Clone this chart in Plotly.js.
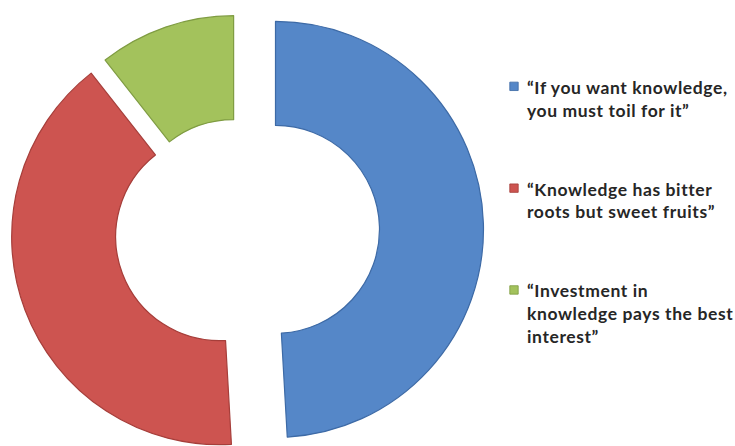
<!DOCTYPE html>
<html>
<head>
<meta charset="utf-8">
<script src="https://cdn.plot.ly/plotly-3.0.1.min.js"></script>
<style>
  html, body { margin: 0; padding: 0; overflow: hidden; background: #ffffff; width: 735px; height: 446px; position: relative; }
  #chart { position: absolute; left: -30px; top: -17px; width: 800px; height: 495px; }
  #chart .legendtext { font-size: 17.5px !important; letter-spacing: 0.6px; }
  #chart path.legendpie { transform: translate(27px, 0px) scale(0.7); }
</style>
</head>
<body>
<div id="chart"></div>
<script>
// Data
const categories = [
  "\u201cIf you want knowledge,<br>you must toil for it\u201d",
  "\u201cKnowledge has bitter<br>roots but sweet fruits\u201d",
  "\u201cInvestment in<br>knowledge pays the best<br>interest\u201d"
];
const values = [49.1, 40.3, 10.6];
const sliceColors = ["#5587c8", "#cd5450", "#a3c25c"];
const edgeColors = ["#3d6aa6", "#a63e3a", "#7f9c42"];
const slicePull = [0.19, 0.084, 0.035];

// legend spacing: pad entries with blank lines so entries are evenly spread
const maxLines = Math.max(...categories.map(c => c.split("<br>").length));
const legendLabels = categories.map(c => {
  const n = c.split("<br>").length;
  let s = c;
  for (let i = n; i < maxLines + 1; i++) s += "<br>\u00a0";
  return s;
});

const trace = {
  type: "pie",
  labels: legendLabels,
  values: values,
  hole: 0.5,
  sort: false,
  direction: "clockwise",
  rotation: 0,
  pull: slicePull,
  textinfo: "none",
  hoverinfo: "label+percent",
  marker: { colors: sliceColors, line: { color: edgeColors, width: 1.2 } },
  domain: { x: [0.023125, 0.641875], y: [0, 1] }
};

const layout = {
  width: 800,
  height: 495,
  margin: { l: 0, r: 0, t: 0, b: 0 },
  paper_bgcolor: "#ffffff",
  showlegend: true,
  legend: {
    x: 0.64625,
    xanchor: "left",
    y: 0.8293,
    yanchor: "top",
    valign: "top",
    font: { family: "Lato, 'Open Sans', sans-serif", size: 19.0, color: "#262626", weight: "bold" },
    bgcolor: "rgba(0,0,0,0)"
  }
};

Plotly.newPlot("chart", [trace], layout, { displayModeBar: false, staticPlot: true });
</script>
</body>
</html>
